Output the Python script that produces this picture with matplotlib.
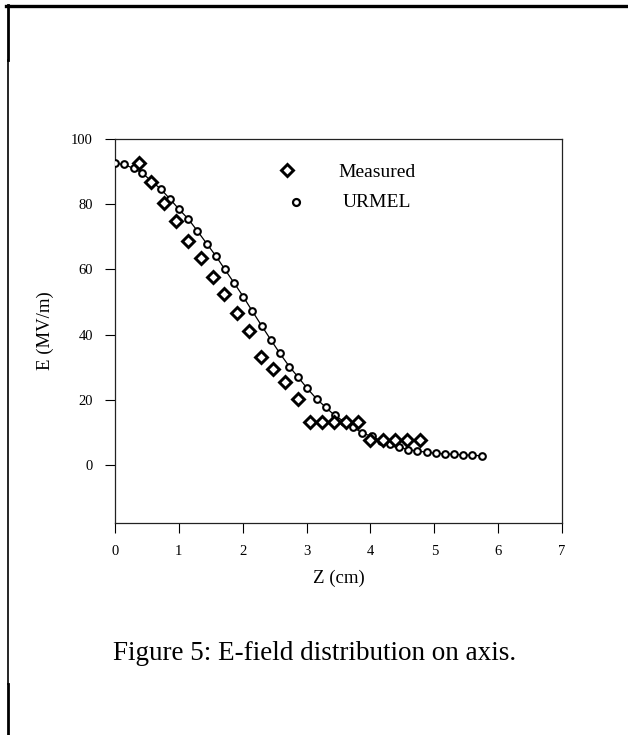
import matplotlib.pyplot as plt
from matplotlib.lines import Line2D

# URMEL calculation (Z in cm, E in MV/m)
urmel_z = [0.00, 0.14, 0.29, 0.43, 0.57, 0.72, 0.86, 1.00, 1.15, 1.29, 1.44,
           1.58, 1.72, 1.87, 2.01, 2.15, 2.30, 2.44, 2.58, 2.73, 2.87, 3.01,
           3.16, 3.30, 3.44, 3.59, 3.73, 3.87, 4.02, 4.16, 4.30, 4.45, 4.59,
           4.73, 4.88, 5.02, 5.16, 5.31, 5.45, 5.59, 5.74]
urmel_e = [92.5, 92.2, 91.0, 89.5, 87.1, 84.6, 81.6, 78.5, 75.4, 71.8, 67.8,
           64.1, 60.0, 55.7, 51.6, 47.2, 42.6, 38.4, 34.3, 30.2, 26.9, 23.5,
           20.2, 17.7, 15.2, 13.3, 11.6, 9.8, 8.8, 7.5, 6.4, 5.5, 4.7,
           4.3, 3.9, 3.6, 3.4, 3.3, 3.1, 3.0, 2.8]

# measured values
meas_z = [0.38, 0.57, 0.76, 0.96, 1.15, 1.34, 1.53, 1.71, 1.91, 2.10, 2.29, 2.48,
          2.67, 2.87, 3.05, 3.24, 3.43, 3.62, 3.81, 4.00, 4.19, 4.38, 4.58, 4.77]
meas_e = [92.7, 86.7, 80.5, 74.8, 68.8, 63.5, 57.6, 52.6, 46.5, 41.0, 33.2, 29.5,
          25.4, 20.2, 13.2, 13.2, 13.2, 13.2, 13.2, 7.6, 7.6, 7.6, 7.6, 7.6]

x_ticks = [0, 1, 2, 3, 4, 5, 6, 7]
y_ticks = [0, 20, 40, 60, 80, 100]

plt.rcParams['font.family'] = ['Liberation Serif', 'DejaVu Serif']

W, H = 628, 735
fig = plt.figure(figsize=(W / 100, H / 100), dpi=100)
ax = fig.add_axes([115 / W, 1 - 523 / H, 447 / W, 384 / H])

ax.plot(urmel_z, urmel_e, '-', color='black', lw=0.9, marker='o', ms=4.8,
        mfc='white', mec='black', mew=1.5, zorder=3)
ax.plot(meas_z, meas_e, 'D', ms=6.6, mfc='white', mec='black', mew=2.1,
        ls='none', zorder=4)

ax.set_xlim(0, 7)
ax.set_ylim(-17.8, 100)
ax.set_xticks(x_ticks)
ax.set_yticks(y_ticks)
ax.tick_params(direction='out', length=7, width=0.8, labelsize=10.5, pad=9)
for s in ax.spines.values():
    s.set_linewidth(0.9)
    s.set_color('#222222')

ax.set_xlabel('Z (cm)', fontsize=13.5, labelpad=8)
ax.set_ylabel('E (MV/m)', fontsize=13.5, labelpad=12)

# legend drawn by hand
ax.plot([0.385], [0.92], 'D', transform=ax.transAxes, ms=6.6, mfc='white',
        mec='black', mew=2.1, clip_on=False)
ax.plot([0.405], [0.835], 'o', transform=ax.transAxes, ms=5, mfc='white',
        mec='black', mew=1.6, clip_on=False)
ax.text(0.587, 0.913, 'Measured', transform=ax.transAxes, fontsize=14,
        ha='center', va='center')
ax.text(0.587, 0.835, 'URMEL', transform=ax.transAxes, fontsize=14,
        ha='center', va='center')

fig.text(315 / W, 1 - 653 / H, 'Figure 5: E-field distribution on axis.',
         fontsize=19.5, ha='center', va='center')

# page border bits
def px_line(x0, y0, x1, y1, lw):
    fig.add_artist(Line2D([x0 / W, x1 / W], [1 - y0 / H, 1 - y1 / H],
                          transform=fig.transFigure, color='black', lw=lw))

px_line(6, 6, 628, 6, 2.4)
px_line(8, 5, 8, 60, 2.0)
px_line(7.5, 60, 7.5, 684, 1.2)
px_line(8, 684, 8, 735, 2.0)

fig.savefig('out.png', dpi=100, facecolor='white')
